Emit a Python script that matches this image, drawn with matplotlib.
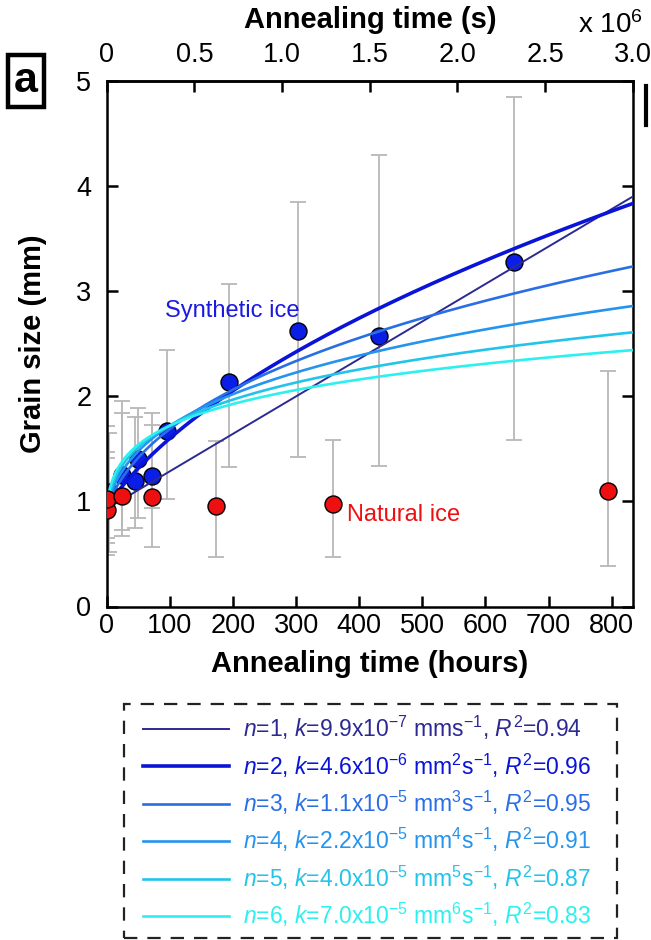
import numpy as np
import matplotlib
matplotlib.use("Agg")
import matplotlib.pyplot as plt
from matplotlib.lines import Line2D
from matplotlib.patches import Rectangle

plt.rcParams['font.family'] = ['Liberation Sans', 'DejaVu Sans']
plt.rcParams['mathtext.fontset'] = 'custom'
plt.rcParams['mathtext.rm'] = 'Liberation Sans'
plt.rcParams['mathtext.it'] = 'Liberation Sans:italic'
plt.rcParams['mathtext.bf'] = 'Liberation Sans:bold'

# ---- data (hours, mm) ----
t_syn = [0, 4, 24, 45, 50, 71, 96, 194, 303, 432, 646]
d_syn = [1.05, 1.09, 1.25, 1.19, 1.40, 1.24, 1.67, 2.14, 2.62, 2.57, 3.28]
lo_syn = [0.60, 0.52, 0.67, 0.75, 0.84, 0.57, 1.02, 1.33, 1.42, 1.34, 1.58]
hi_syn = [1.72, 1.65, 1.96, 1.80, 1.89, 1.84, 2.44, 3.07, 3.85, 4.30, 4.85]

t_nat = [0, 1, 24, 71, 173, 358, 794]
d_nat = [0.92, 1.02, 1.05, 1.04, 0.96, 0.98, 1.10]
lo_nat = [0.49, 0.65, 0.73, 0.94, 0.47, 0.47, 0.39]
hi_nat = [1.47, 1.41, 1.84, 1.73, 1.57, 1.58, 2.24]

# ---- fits: d^n - d0^n = k t  (t in s) ----
fit_n = [1, 2, 3, 4, 5, 6]
fit_k = [9.9e-7, 4.6e-6, 1.1e-5, 2.2e-5, 4.0e-5, 7.0e-5]
fit_d0 = [0.93, 0.95, 0.95, 0.95, 0.95, 0.95]
fit_r2 = [0.94, 0.96, 0.95, 0.91, 0.87, 0.83]
fit_k_txt = ['9.9x10$^{-7}$', '4.6x10$^{-6}$', '1.1x10$^{-5}$',
             '2.2x10$^{-5}$', '4.0x10$^{-5}$', '7.0x10$^{-5}$']
fit_colors = ['#2c2a92', '#0a14d8', '#2a6ee6', '#2494ee', '#22c4ea', '#2cf0f0']
fit_lw = [1.4, 2.6, 1.9, 1.9, 1.9, 1.9]

xticks = [0, 100, 200, 300, 400, 500, 600, 700, 800]
yticks = [0, 1, 2, 3, 4, 5]
top_ticks = [0, 0.5, 1.0, 1.5, 2.0, 2.5, 3.0]
top_labels = ['0', '0.5', '1.0', '1.5', '2.0', '2.5', '3.0']

W, H = 651, 940
fig = plt.figure(figsize=(W / 100, H / 100), dpi=100)
ax = fig.add_axes([106.7 / W, 1 - 606.5 / H, 526 / W, 525.5 / H])

xmax = 3.0e6 / 3600.0
ax.set_xlim(0, xmax)
ax.set_ylim(0, 5)

grey = '#b8b8b8'
def ebars(t, d, lo, hi):
    t = np.asarray(t); d = np.asarray(d)
    yerr = np.vstack([d - np.asarray(lo), np.asarray(hi) - d])
    ax.errorbar(t, d, yerr=yerr, fmt='none', ecolor=grey, elinewidth=1.3,
                capsize=6, capthick=1.3, zorder=1)

ebars(t_syn, d_syn, lo_syn, hi_syn)
ebars(t_nat, d_nat, lo_nat, hi_nat)

th = np.linspace(0, xmax, 800)
ts = th * 3600.0
handles = []
for n, k, d0, r2, ktxt, c, lw in zip(fit_n, fit_k, fit_d0, fit_r2, fit_k_txt, fit_colors, fit_lw):
    d = (d0 ** n + k * ts) ** (1.0 / n)
    unit = 'mms$^{-1}$' if n == 1 else 'mm$^{%d}$s$^{-1}$' % n
    lab = r'$n$=%d, $k$=%s %s, $R^2$=%.2f' % (n, ktxt, unit, r2)
    ln, = ax.plot(th, d, color=c, lw=lw, zorder=3, label=lab)
    handles.append(ln)

ax.scatter(t_nat, d_nat, s=150, c='#ee1010', edgecolors='black', linewidths=1.0, zorder=4)
ax.scatter(t_syn, d_syn, s=150, c='#0a1ee6', edgecolors='black', linewidths=1.0, zorder=2)

ax.text(92, 2.81, 'Synthetic ice', color='#1a1ae0', fontsize=17, va='center', ha='left')
ax.text(380, 0.87, 'Natural ice', color='#ee1010', fontsize=17, va='center', ha='left')

ax.set_xticks(xticks)
ax.set_yticks(yticks)
ax.tick_params(direction='in', length=8, width=1.8, labelsize=19.5, right=True)
ax.tick_params(axis='x', pad=5)
ax.tick_params(axis='y', pad=11)
for s in ax.spines.values():
    s.set_linewidth(1.8)
ax.set_xlabel('Annealing time (hours)', fontsize=21, fontweight='bold', va='center')
ax.xaxis.set_label_coords(0.5, -(664 - 606.5) / 525.5)
ax.set_ylabel('Grain size (mm)', fontsize=21, fontweight='bold', va='center')
ax.yaxis.set_label_coords(-(106.7 - 33) / 526, 0.5)

sec = ax.secondary_xaxis('top', functions=(lambda h: h * 3600.0 / 1e6, lambda s: s * 1e6 / 3600.0))
sec.set_xticks(top_ticks)
sec.set_xticklabels(top_labels)
sec.tick_params(direction='in', length=8, width=1.8, labelsize=19.5, pad=9)
sec.spines['top'].set_linewidth(1.8)
fig.text(370 / W, 1 - 20 / H, 'Annealing time (s)', fontsize=21, fontweight='bold',
         ha='center', va='center')

fig.text(610 / W, 1 - 25 / H, r'x 10$^6$', fontsize=20, ha='center', va='center')

fig.text(26 / W, 1 - 81 / H, 'a', fontsize=31, fontweight='bold', ha='center', va='center',
         bbox=dict(boxstyle='square,pad=0.14', fc='white', ec='black', lw=3.2))
fig.add_artist(Line2D([646 / W, 646 / W], [1 - 86 / H, 1 - 125 / H], color='black', lw=3))

# legend box (dashed)
fig.add_artist(Rectangle((124 / W, 1 - 938 / H), (617 - 124) / W, (938 - 704) / H,
                         transform=fig.transFigure, fill=False, ec='#222222', lw=1.6,
                         ls=(0, (6, 4.5))))
leg = fig.legend(handles=handles, loc='upper left', bbox_to_anchor=(143 / W, 1 - 714 / H),
                 fontsize=16.5, handlelength=3.75, handletextpad=0.62,
                 labelspacing=0.40, borderpad=0, borderaxespad=0, frameon=False,
                 labelcolor='linecolor')

fig.savefig('out.png', dpi=100)
